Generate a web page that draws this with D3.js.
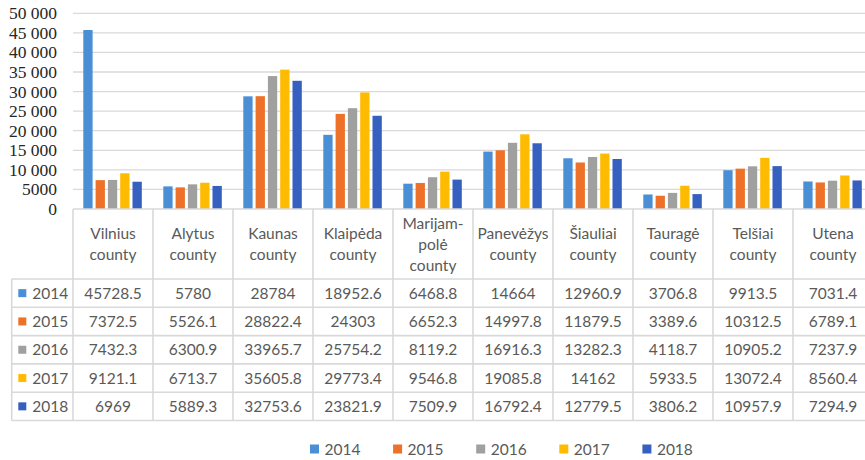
<!DOCTYPE html>
<html><head><meta charset="utf-8">
<script src="https://cdn.jsdelivr.net/npm/d3@7"></script>
<style>body{margin:0;background:#fff}svg{display:block}</style>
</head><body><svg id="c" width="865" height="460"></svg>
<script>
const categories = [["Vilnius","county"],["Alytus","county"],["Kaunas","county"],["Klaipėda","county"],["Marijam-","polė","county"],["Panevėžys","county"],["Šiauliai","county"],["Tauragė","county"],["Telšiai","county"],["Utena","county"]];
const years = ["2014","2015","2016","2017","2018"];
const v2014 = [45728.5,5780,28784,18952.6,6468.8,14664,12960.9,3706.8,9913.5,7031.4];
const v2015 = [7372.5,5526.1,28822.4,24303,6652.3,14997.8,11879.5,3389.6,10312.5,6789.1];
const v2016 = [7432.3,6300.9,33965.7,25754.2,8119.2,16916.3,13282.3,4118.7,10905.2,7237.9];
const v2017 = [9121.1,6713.7,35605.8,29773.4,9546.8,19085.8,14162,5933.5,13072.4,8560.4];
const v2018 = [6969,5889.3,32753.6,23821.9,7509.9,16792.4,12779.5,3806.2,10957.9,7294.9];
const yTicks = [0,5000,10000,15000,20000,25000,30000,35000,40000,45000,50000];
const yTickLabels = ["0","5000","10 000","15 000","20 000","25 000","30 000","35 000","40 000","45 000","50 000"];
const colors = ["#4a8fd6","#ed7128","#a0a0a0","#ffbb00","#3660bf"];
const series = [v2014,v2015,v2016,v2017,v2018];

const svg = d3.select("#c");
const W = 865;
const y = d3.scaleLinear().domain([0,50000]).range([209,13.3]);
const keys = categories.map((c,i)=>i);
const x0 = d3.scaleBand().domain(keys).range([73,873]).padding(0);
const x1 = d3.scaleBand().domain(years).range([10.3,68.8]).paddingInner(0.244).paddingOuter(0);
const grid = "#d9d9d9";
const txt = "#595959";
const font = "Lato, 'Open Sans', sans-serif";

// gridlines
svg.append("g").selectAll("line").data(yTicks.slice(1)).join("line")
  .attr("x1",73).attr("x2",W).attr("y1",d=>y(d)).attr("y2",d=>y(d))
  .attr("stroke",grid).attr("stroke-width",1.3);
// y labels
svg.append("g").selectAll("text").data(yTicks).join("text")
  .attr("x",57).attr("y",d=>y(d)+6).attr("text-anchor","end")
  .attr("font-family","'Liberation Serif','Times New Roman',serif").attr("font-size",17.5)
  .attr("fill","#262626").text((d,i)=>yTickLabels[i]);

// bars
const clip = svg.append("defs").append("clipPath").attr("id","cl").append("rect").attr("x",0).attr("y",0).attr("width",W).attr("height",460);
const bars = svg.append("g").attr("clip-path","url(#cl)");
series.forEach((s,si)=>{
  bars.append("g").selectAll("rect").data(s).join("rect")
    .attr("x",(d,i)=>x0(i)+x1(years[si])).attr("width",x1.bandwidth())
    .attr("y",d=>y(d)).attr("height",d=>y(0)-y(d)).attr("fill",colors[si]);
});

// table
const tTop = 209, hdrBottom = 279, rowH = 28.3;
const tBottom = hdrBottom + rowH*5;
const tg = svg.append("g");
// axis line
tg.append("line").attr("x1",73).attr("x2",W).attr("y1",tTop).attr("y2",tTop).attr("stroke",grid).attr("stroke-width",1.6);
for(let r=0;r<=5;r++){
  const yy = hdrBottom + r*rowH;
  tg.append("line").attr("x1",11.7).attr("x2",W).attr("y1",yy).attr("y2",yy).attr("stroke",grid).attr("stroke-width",1.6);
}
tg.append("line").attr("x1",11.7).attr("x2",11.7).attr("y1",hdrBottom).attr("y2",tBottom).attr("stroke",grid).attr("stroke-width",1.6);
keys.concat([10]).forEach(i=>{
  const xx = i<10 ? x0(i) : x0(9)+x0.bandwidth();
  tg.append("line").attr("x1",xx).attr("x2",xx).attr("y1",tTop).attr("y2",tBottom).attr("stroke",grid).attr("stroke-width",1.6);
});
// header labels
categories.forEach((c,i)=>{
  const cx = x0(i)+x0.bandwidth()/2;
  const n = c.length;
  const mid = (tTop+hdrBottom)/2;
  c.forEach((line,li)=>{
    tg.append("text").attr("x",cx).attr("y",mid + (li-(n-1)/2)*21 + 5.5)
      .attr("text-anchor","middle").attr("font-family",font).attr("font-size",15.5).attr("fill",txt).text(line);
  });
});
// rows
series.forEach((s,si)=>{
  const cy = hdrBottom + si*rowH + rowH/2;
  tg.append("rect").attr("x",18.3).attr("y",cy-4).attr("width",8).attr("height",8).attr("fill",colors[si]);
  tg.append("text").attr("x",32.3).attr("y",cy+5.5).attr("font-family",font).attr("font-size",15.5).attr("fill",txt).text(years[si]);
  tg.append("g").selectAll("text").data(s).join("text")
    .attr("x",(d,i)=>x0(i)+x0.bandwidth()/2).attr("y",cy+5.5).attr("text-anchor","middle")
    .attr("font-family",font).attr("font-size",15.5).attr("fill",txt).text(d=>String(d));
});

// legend
const lg = svg.append("g");
years.forEach((yr,i)=>{
  const lx = 310 + i*83.1;
  lg.append("rect").attr("x",lx).attr("y",444.5).attr("width",9).attr("height",9).attr("fill",colors[i]);
  lg.append("text").attr("x",lx+14.5).attr("y",454.5).attr("font-family",font).attr("font-size",15.5).attr("fill",txt).text(yr);
});
</script></body></html>
